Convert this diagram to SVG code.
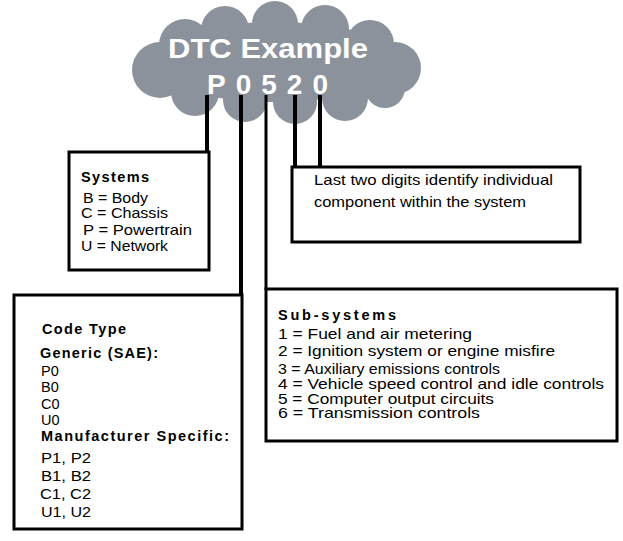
<svg xmlns="http://www.w3.org/2000/svg" width="623" height="541" viewBox="0 0 623 541">
<style>
.box{fill:#fff;stroke:#000;stroke-width:3}
.t{font-family:"Liberation Sans",Arial,sans-serif;font-size:14.5px;fill:#000}
.b{font-weight:bold}
.ln{stroke:#000;fill:none}
</style>
<rect width="623" height="541" fill="#fff"/>
<g id="cloud" fill="#8c929b">
<ellipse cx="275" cy="62" rx="128" ry="40"/>
<circle cx="185" cy="45" r="26"/><circle cx="225" cy="30" r="24"/><circle cx="275" cy="24" r="23"/><circle cx="325" cy="29" r="24"/><circle cx="370" cy="44" r="24"/>
<circle cx="160" cy="70" r="28"/><circle cx="395" cy="68" r="26"/>
<circle cx="195" cy="92" r="24"/><circle cx="245" cy="100" r="22"/><circle cx="295" cy="102" r="22"/><circle cx="345" cy="98" r="23"/><circle cx="385" cy="88" r="20"/>
<text x="168" y="58" textLength="200" lengthAdjust="spacingAndGlyphs" font-family="Liberation Sans,Arial,sans-serif" font-weight="bold" font-size="27" fill="#fff">DTC Example</text>
<text x="207" y="94" textLength="121" lengthAdjust="spacing" font-family="Liberation Sans,Arial,sans-serif" font-weight="bold" font-size="28" fill="#fff">P0520</text>
</g>
<g id="connectors">
<line class="ln" x1="207" y1="95" x2="207" y2="170" stroke-width="4"/>
<line class="ln" x1="241" y1="95" x2="241" y2="304" stroke-width="4"/>
<line class="ln" x1="266" y1="95" x2="266" y2="290" stroke-width="3"/>
<line class="ln" x1="295" y1="95" x2="295" y2="168" stroke-width="4"/>
<line class="ln" x1="320" y1="95" x2="320" y2="168" stroke-width="4"/>
</g>
<g id="systems">
<rect class="box" x="69" y="152" width="140" height="118"/>
<text class="t b" x="81" y="182" textLength="68">Systems</text>
<text class="t" x="83" y="203" textLength="65" lengthAdjust="spacingAndGlyphs">B = Body</text>
<text class="t" x="81" y="218" textLength="87" lengthAdjust="spacingAndGlyphs">C = Chassis</text>
<text class="t" x="83" y="235" textLength="109" lengthAdjust="spacingAndGlyphs">P = Powertrain</text>
<text class="t" x="81" y="251" textLength="87" lengthAdjust="spacingAndGlyphs">U = Network</text>
</g>
<g id="digits">
<rect class="box" x="292" y="167" width="288" height="75"/>
<text class="t" x="314" y="185" textLength="239" lengthAdjust="spacingAndGlyphs">Last two digits identify individual</text>
<text class="t" x="314" y="207" textLength="212" lengthAdjust="spacingAndGlyphs">component within the system</text>
</g>
<g id="codetype">
<rect class="box" x="14" y="295" width="228" height="234"/>
<text class="t b" x="42" y="334" textLength="84">Code Type</text>
<text class="t b" x="40" y="358" textLength="118">Generic (SAE):</text>
<text class="t" x="41" y="376">P0</text>
<text class="t" x="41" y="392">B0</text>
<text class="t" x="41" y="409">C0</text>
<text class="t" x="41" y="425">U0</text>
<text class="t b" x="41" y="441" textLength="188">Manufacturer Specific:</text>
<text class="t" x="41" y="463" textLength="50" lengthAdjust="spacingAndGlyphs">P1, P2</text>
<text class="t" x="41" y="481" textLength="50" lengthAdjust="spacingAndGlyphs">B1, B2</text>
<text class="t" x="40" y="499" textLength="51" lengthAdjust="spacingAndGlyphs">C1, C2</text>
<text class="t" x="41" y="517" textLength="50" lengthAdjust="spacingAndGlyphs">U1, U2</text>
</g>
<g id="subsystems">
<rect class="box" x="266" y="289" width="351" height="152"/>
<text class="t b" x="278" y="320" textLength="118">Sub-systems</text>
<text class="t" x="278" y="339" textLength="194" lengthAdjust="spacingAndGlyphs">1 = Fuel and air metering</text>
<text class="t" x="278" y="356" textLength="277" lengthAdjust="spacingAndGlyphs">2 = Ignition system or engine misfire</text>
<text class="t" x="278" y="374" textLength="222" lengthAdjust="spacingAndGlyphs">3 = Auxiliary emissions controls</text>
<text class="t" x="278" y="389" textLength="326" lengthAdjust="spacingAndGlyphs">4 = Vehicle speed control and idle controls</text>
<text class="t" x="278" y="404" textLength="216" lengthAdjust="spacingAndGlyphs">5 = Computer output circuits</text>
<text class="t" x="278" y="418" textLength="202" lengthAdjust="spacingAndGlyphs">6 = Transmission controls</text>
</g>
</svg>
